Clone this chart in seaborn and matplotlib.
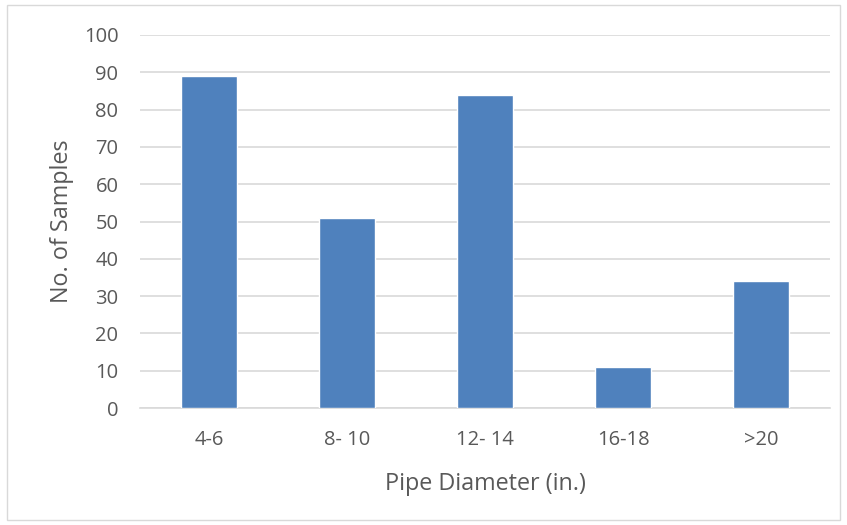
import pandas as pd
import seaborn as sns
import matplotlib.pyplot as plt
from matplotlib.patches import Rectangle

# pipe diameter bins and sample counts
diameters = ['4-6', '8- 10', '12- 14', '16-18', '>20']
samples = [89, 51, 84, 11, 34]

df = pd.DataFrame({'Diameter': diameters, 'Samples': samples})

sns.set_style('white')
plt.rcParams['font.family'] = ['Open Sans', 'DejaVu Sans']

fig = plt.figure(figsize=(8.47, 5.25), dpi=100)
ax = fig.add_axes([140/847, 1-408/525, 690/847, 373/525])

sns.barplot(data=df, x='Diameter', y='Samples', color='#4F81BD', width=0.4,
            saturation=1, ax=ax, zorder=3)

ax.set_ylim(0, 100)
ax.set_xlim(-0.5, 4.5)
ax.set_yticks(range(0, 101, 10))
ax.yaxis.grid(True, color='#D9D9D9', linewidth=1.2, zorder=0)
ax.set_axisbelow(True)
for s in ['top', 'right', 'left']:
    ax.spines[s].set_visible(False)
ax.spines['bottom'].set_color('#D9D9D9')
ax.spines['bottom'].set_linewidth(1.2)
ax.tick_params(axis='both', length=0, labelsize=14.5, colors='#595959')
ax.tick_params(axis='x', pad=16)
ax.tick_params(axis='y', pad=15.5)

ax.set_xlabel('Pipe Diameter (in.)', fontsize=16.8, color='#595959', labelpad=16)
ax.set_ylabel('No. of Samples', fontsize=16.8, color='#595959', labelpad=7)

# light outer chart border
fig.patches.append(Rectangle((7/847, 1-520/525), 833/847, 515/525,
                             transform=fig.transFigure, fill=False,
                             edgecolor='#D9D9D9', linewidth=1))

fig.savefig('out.png', dpi=100)
